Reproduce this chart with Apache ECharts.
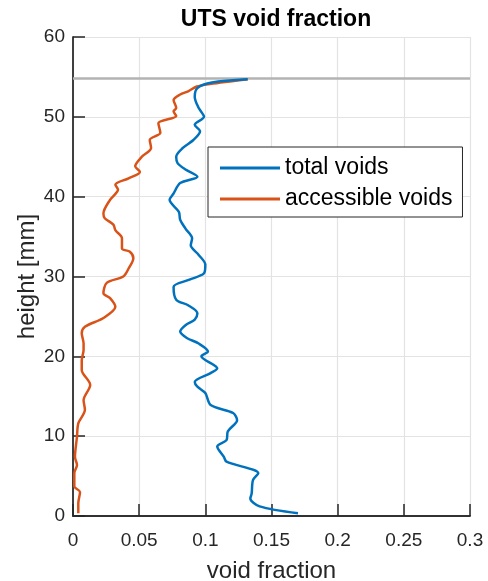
<!DOCTYPE html>
<html><head><meta charset="utf-8">
<script src="https://cdn.jsdelivr.net/npm/echarts@6/dist/echarts.min.js"></script>
<style>html,body{margin:0;padding:0;background:#fff}#c{width:488px;height:581px}</style>
</head><body><div id="c"></div>
<script>
const titleText = 'UTS void fraction';
const xName = 'void fraction';
const yName = 'height [mm]';
const seriesNames = ['total voids', 'accessible voids'];
const totalHeight = [0.34,1.2,2.2,2.8,4.5,5.35,6.8,7.4,8.7,9.5,10.6,12.0,12.9,13.9,15.4,16.2,16.8,17.9,18.5,20.0,20.6,21.6,22.3,23.1,23.9,24.6,25.4,26.4,27.1,28.7,29.6,30.4,31.5,32.7,33.9,34.8,36.0,37.1,38.1,39.6,40.4,41.7,42.5,43.4,44.2,45.0,46.1,47.1,48.2,49.0,50.0,51.1,52.5,53.6,54.3,54.7];
const totalVoid = [0.170,0.141,0.134,0.135,0.136,0.140,0.116,0.114,0.109,0.116,0.117,0.124,0.121,0.104,0.100,0.094,0.092,0.104,0.109,0.097,0.102,0.095,0.086,0.081,0.085,0.092,0.094,0.087,0.078,0.076,0.088,0.099,0.100,0.095,0.089,0.090,0.085,0.081,0.080,0.073,0.076,0.081,0.094,0.085,0.079,0.078,0.083,0.091,0.096,0.092,0.099,0.095,0.092,0.094,0.105,0.132];
const accHeight = [0.34,1.6,3.0,3.7,5.35,6.4,7.4,9.9,11.6,13.3,14.5,16.4,18.3,19.5,20.8,21.6,22.9,23.7,24.8,26.2,27.3,27.9,29.2,30.0,31.0,32.3,33.1,33.5,34.8,35.8,36.5,37.3,37.9,39.6,40.9,41.5,42.3,43.1,43.8,45.0,46.1,47.1,48.0,49.2,50.1,50.7,51.1,52.1,52.8,53.2,53.8,54.1,54.7];
const accVoid = [0.004,0.004,0.0053,0.001,0.001,0.003,0.0015,0.003,0.004,0.009,0.008,0.013,0.0066,0.0066,0.008,0.008,0.0066,0.009,0.023,0.032,0.028,0.023,0.0255,0.038,0.042,0.0456,0.043,0.037,0.037,0.032,0.0305,0.024,0.023,0.028,0.034,0.032,0.042,0.0506,0.047,0.052,0.059,0.058,0.066,0.0645,0.078,0.076,0.078,0.076,0.081,0.087,0.0935,0.1035,0.132];
const surfaceHeight = 54.8;
const xTicks = ['0','0.05','0.1','0.15','0.2','0.25','0.3'];

const FONT = 'Liberation Sans, Arial, sans-serif';
const chart = echarts.init(document.getElementById('c'));
const pairs = (xs, ys) => xs.map((v, i) => [v, ys[i]]);
const TL = 6;
const noTick = {show: false};
const tick = {show: true, inside: false, length: TL, lineStyle: {color: '#262626', width: 1.5}};
const line = (c) => ({show: true, lineStyle: {color: c, width: 1.5}});
const grid = {show: true, lineStyle: {color: '#e3e3e3', width: 1.2}};
const xRange = {type: 'value', min: 0, max: 0.3, interval: 0.05};
const yRange = {type: 'value', min: 0, max: 60, interval: 10};
const helper = (range, pos) => Object.assign({}, range, {position: pos, offset: -TL,
  axisLabel: {show: false}, axisLine: {show: false}, axisTick: tick, splitLine: {show: false}});
chart.setOption({
  animation: false,
  title: {text: titleText, left: 271, textAlign: 'center', top: 3,
    textStyle: {fontFamily: FONT, fontSize: 23, fontWeight: 'bold', color: '#000'}},
  grid: {left: 73, right: 18, top: 37, bottom: 65, containLabel: false, outerBoundsMode: 'none'},
  legend: {
    orient: 'vertical', left: 208, top: 147, padding: [8, 10, 5, 12],
    backgroundColor: '#fff', borderColor: '#262626', borderWidth: 1,
    icon: 'rect', itemWidth: 60, itemHeight: 3, itemGap: 5,
    textStyle: {fontFamily: FONT, fontSize: 23, color: '#000', lineHeight: 26},
    data: seriesNames
  },
  xAxis: [
    Object.assign({}, xRange, {position: 'bottom',
      name: xName, nameLocation: 'middle', nameGap: 43, nameMoveOverlap: false,
      nameTextStyle: {fontFamily: FONT, fontSize: 24, color: '#262626'},
      axisLabel: {fontFamily: FONT, fontSize: 19, color: '#262626', margin: 15,
        formatter: (v) => xTicks[Math.round(v / 0.05)]},
      axisLine: line('#262626'), axisTick: noTick, splitLine: grid}),
    Object.assign({}, xRange, {position: 'top',
      axisLabel: {show: false}, axisLine: line('#262626'), axisTick: noTick, splitLine: {show: false}}),
    helper(xRange, 'bottom'),
    helper(xRange, 'top')
  ],
  yAxis: [
    Object.assign({}, yRange, {position: 'left',
      name: yName, nameLocation: 'middle', nameGap: 34, nameMoveOverlap: false,
      nameTextStyle: {fontFamily: FONT, fontSize: 24, color: '#262626'},
      axisLabel: {fontFamily: FONT, fontSize: 19, color: '#262626', margin: 8},
      axisLine: line('#6e6e6e'), axisTick: noTick, splitLine: grid}),
    Object.assign({}, yRange, {position: 'right',
      axisLabel: {show: false}, axisLine: line('#262626'), axisTick: noTick, splitLine: {show: false}}),
    helper(yRange, 'left'),
    helper(yRange, 'right')
  ],
  series: [
    {type: 'line', name: 'surface', data: [[0, surfaceHeight], [0.3, surfaceHeight]],
      symbol: 'none', lineStyle: {color: '#b3b3b3', width: 2.5}, z: 1, silent: true},
    {type: 'line', name: seriesNames[0], data: pairs(totalVoid, totalHeight),
      symbol: 'none', smooth: 0.3, color: '#0072BD', lineStyle: {color: '#0072BD', width: 2.5}, z: 3},
    {type: 'line', name: seriesNames[1], data: pairs(accVoid, accHeight),
      symbol: 'none', smooth: 0.3, color: '#D95319', lineStyle: {color: '#D95319', width: 2.5}, z: 2}
  ]
});
</script></body></html>
